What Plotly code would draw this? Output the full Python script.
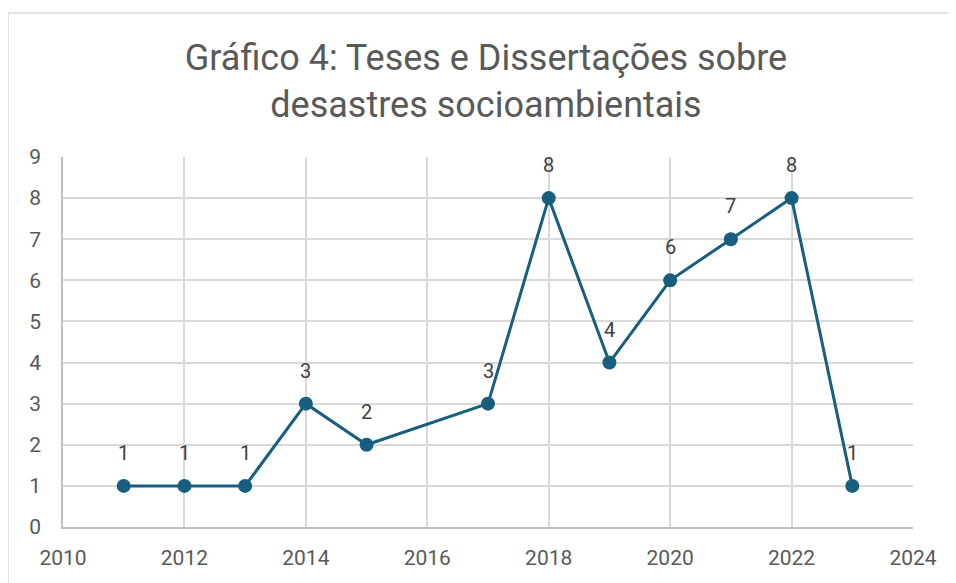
import plotly.graph_objects as go

years = [2011, 2012, 2013, 2014, 2015, 2017, 2018, 2019, 2020, 2021, 2022, 2023]
counts = [1, 1, 1, 3, 2, 3, 8, 4, 6, 7, 8, 1]

line_color = '#175E7F'
text_gray = '#595959'
grid_gray = '#D9D9D9'

fig = go.Figure()
fig.add_trace(go.Scatter(
    x=years,
    y=counts,
    mode='lines+markers',
    line=dict(color=line_color, width=3),
    marker=dict(color=line_color, size=14),
    cliponaxis=False,
    showlegend=False,
))

# data labels above each point
for yr, c in zip(years, counts):
    fig.add_annotation(
        x=yr, y=c, text=str(c),
        showarrow=False,
        yanchor='middle',
        yshift=33,
        font=dict(size=20, color='#404040'),
    )

fig.update_layout(
    width=956,
    height=583,
    paper_bgcolor='white',
    plot_bgcolor='white',
    font=dict(family='Roboto', color=text_gray),
    title=dict(
        text='Gráfico 4: Teses e Dissertações sobre<br>desastres socioambientais',
        x=0.5,
        xanchor='center',
        y=0.894,
        yanchor='middle',
        font=dict(size=36, color=text_gray),
    ),
    margin=dict(l=55, r=51, t=149, b=64),
    xaxis=dict(
        range=[2010, 2024],
        dtick=2,
        tick0=2010,
        showgrid=True,
        gridcolor=grid_gray,
        gridwidth=1.5,
        showline=True,
        linecolor='#BFBFBF',
        linewidth=1.5,
        zeroline=False,
        ticks='',
        ticklabelstandoff=11,
        tickfont=dict(size=21, color=text_gray),
    ),
    yaxis=dict(
        range=[0, 9],
        dtick=1,
        showgrid=True,
        gridcolor=grid_gray,
        gridwidth=1.5,
        showline=True,
        linecolor='#BFBFBF',
        linewidth=1.5,
        zeroline=False,
        ticks='',
        ticklabelstandoff=16,
        tickfont=dict(size=21, color=text_gray),
    ),
)

# outer chart frame
fig.add_shape(
    type='rect', xref='paper', yref='paper',
    x0=-0.0647, x1=1.15, y0=-0.3, y1=1.389,
    line=dict(color='#D9D9D9', width=1.5),
    fillcolor='rgba(0,0,0,0)',
    layer='below',
)

fig.write_html("out.html")
